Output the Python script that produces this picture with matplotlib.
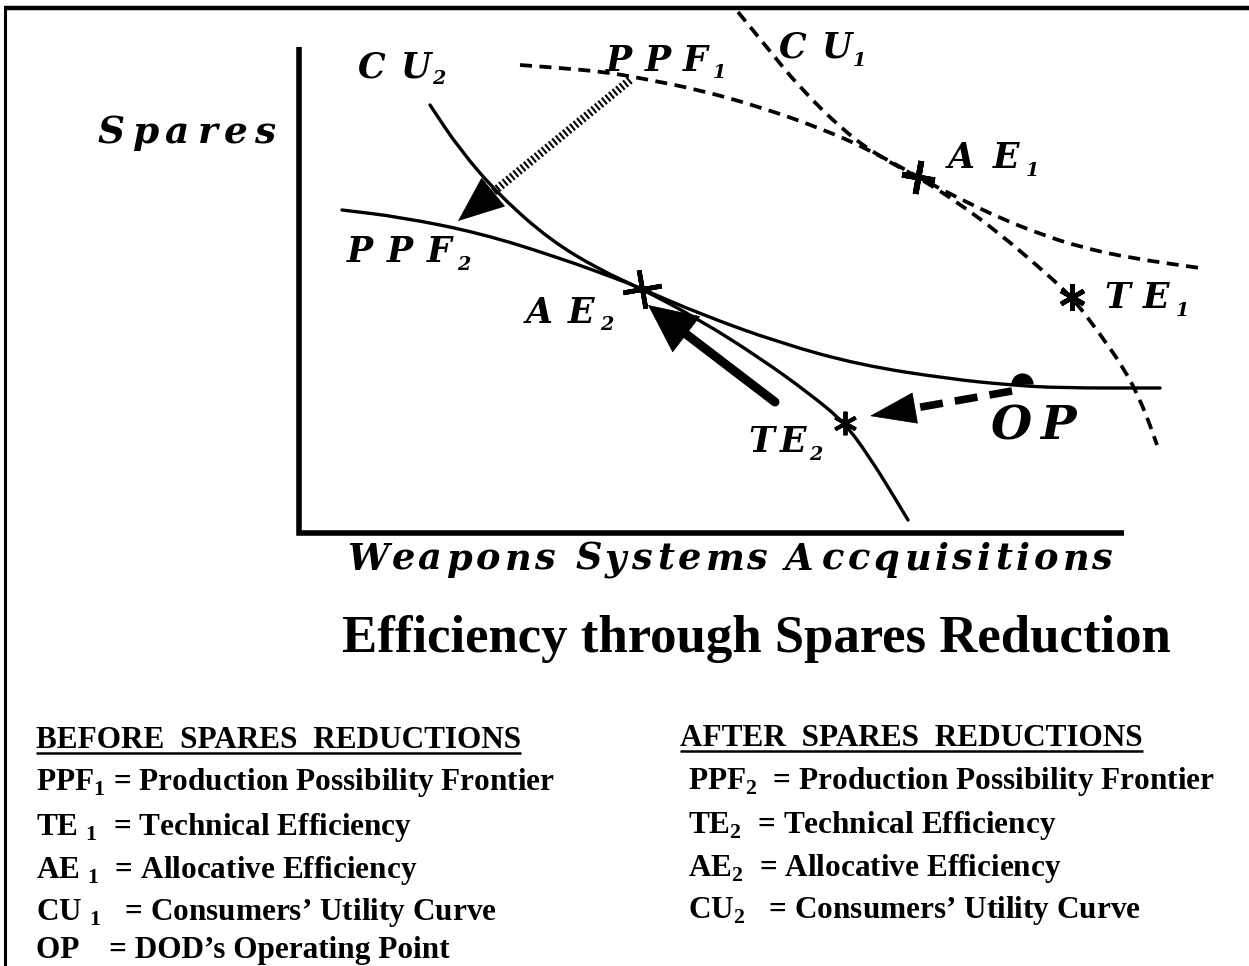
import matplotlib
matplotlib.use("Agg")
import matplotlib.pyplot as plt
from matplotlib.patches import FancyArrowPatch, PathPatch
from matplotlib.path import Path
from matplotlib.font_manager import FontProperties, findfont, get_font

plt.rcParams['mathtext.fontset'] = 'custom'
plt.rcParams['mathtext.bf'] = 'Liberation Serif:bold'
plt.rcParams['mathtext.rm'] = 'Liberation Serif:bold'

# ---- diagram data (pixel-space coordinates of the sketch) ----
ppf1_x = [520, 560, 605, 640, 700, 760, 820, 870, 918, 960, 1000, 1040, 1080, 1130, 1200]
ppf1_y = [65, 68, 72, 78, 90, 107, 128, 150, 177, 199, 218, 234, 247, 258, 268]

cu1_x = [738, 765, 800, 845, 880, 918, 960, 1000, 1040, 1072, 1100, 1125, 1140, 1150, 1157]
cu1_y = [12, 45, 88, 132, 157, 177, 204, 234, 268, 297, 334, 370, 400, 425, 445]

cu2_x = [430, 460, 500, 550, 600, 640, 700, 760, 810, 845, 870, 890, 908]
cu2_y = [105, 150, 196, 240, 270, 288, 320, 358, 394, 423, 458, 490, 520]

ppf2_x = [342, 400, 480, 560, 620, 640, 700, 780, 860, 950, 1010, 1060, 1160]
ppf2_y = [210, 217, 233, 258, 280, 288, 314, 343, 365, 379, 385, 388, 388]

ae1 = (918, 177)
te1 = (1072, 297)
ae2 = (642, 289)
te2 = (845, 423)
op = (1022, 384)

arrow_hatched = ((630, 80), (458, 221))
arrow_solid = ((775, 402), (648, 305))
arrow_dashed = ((1012, 391), (870, 416))

# (main text, subscript, left, right, baseline, size)
labels = [
    ("CU", "2", 357, 445, 77, 25),
    ("PPF", "1", 607, 722, 71, 25),
    ("CU", "1", 778, 862, 58, 25),
    ("AE", "1", 950, 1035, 168, 25),
    ("TE", "1", 1103, 1185, 308, 25),
    ("PPF", "2", 348, 470, 262, 25),
    ("AE", "2", 528, 613, 323, 25),
    ("TE", "2", 747, 822, 452, 25),
    ("OP", "", 990, 1077, 439, 34),
    ("Spares", "", 97, 275, 143, 27),
    ("Weapons Systems Accquisitions", "", 345, 1112, 570, 26.5),
]

before_header = "BEFORE  SPARES  REDUCTIONS"
before_items = [
    "PPF$_\\mathbf{1}$ = Production Possibility Frontier",
    "TE $_\\mathbf{1}$  = Technical Efficiency",
    "AE $_\\mathbf{1}$  = Allocative Efficiency",
    "CU $_\\mathbf{1}$   = Consumers\u2019 Utility Curve",
    "OP    = DOD\u2019s Operating Point",
]
after_header = "AFTER  SPARES  REDUCTIONS"
after_items = [
    "PPF$_\\mathbf{2}$  = Production Possibility Frontier",
    "TE$_\\mathbf{2}$  = Technical Efficiency",
    "AE$_\\mathbf{2}$  = Allocative Efficiency",
    "CU$_\\mathbf{2}$   = Consumers\u2019 Utility Curve",
]
before_y = [790, 835, 878, 920, 958]
after_y = [789, 833, 876, 918]

fig = plt.figure(figsize=(12.49, 9.66), dpi=100)
ax = fig.add_axes([0, 0, 1, 1])
ax.set_xlim(0, 1249)
ax.set_ylim(966, 0)
ax.axis('off')

# frame lines
ax.plot([4, 1249], [8, 8], color='black', lw=3.2, solid_capstyle='butt')
ax.plot([5, 5], [8, 966], color='black', lw=2.2, solid_capstyle='butt')

# axes of the diagram
ax.plot([299, 299, 1124], [47, 533, 533], color='black', lw=4.0,
        solid_capstyle='butt', solid_joinstyle='miter')


def smooth_curve(xs, ys, **kw):
    pts = list(zip(xs, ys))
    verts = [pts[0]]
    codes = [Path.MOVETO]
    mid = lambda a, b: ((a[0] + b[0]) / 2.0, (a[1] + b[1]) / 2.0)
    verts.append(mid(pts[0], pts[1]))
    codes.append(Path.LINETO)
    for i in range(1, len(pts) - 1):
        verts += [pts[i], mid(pts[i], pts[i + 1])]
        codes += [Path.CURVE3, Path.CURVE3]
    verts.append(pts[-1])
    codes.append(Path.LINETO)
    ax.add_patch(PathPatch(Path(verts, codes), fill=False, edgecolor='black', **kw))


smooth_curve(ppf1_x, ppf1_y, lw=2.7, linestyle=(0, (3.2, 2.0)))
smooth_curve(cu1_x, cu1_y, lw=2.7, linestyle=(0, (3.2, 2.0)))
smooth_curve(cu2_x, cu2_y, lw=2.4, capstyle='round')
smooth_curve(ppf2_x, ppf2_y, lw=2.4, capstyle='round')

# markers
ax.plot(*ae1, marker=(4, 2, -10), ms=24, mew=4.2, color='black')
ax.plot(*te1, marker=(6, 2, 0), ms=19, mew=3.4, color='black')
ax.plot(*ae2, marker=(4, 2, 10), ms=28, mew=3.4, color='black')
ax.plot(*te2, marker=(6, 2, 0), ms=17, mew=2.8, color='black')
ax.plot(*op, marker='o', ms=16, fillstyle='top', markerfacecoloralt='none',
        mec='none', color='black')


def head(p_from, p_to, frac, hl, hw):
    sx = p_to[0] - (p_to[0] - p_from[0]) * frac
    sy = p_to[1] - (p_to[1] - p_from[1]) * frac
    a = FancyArrowPatch((sx, sy), p_to, arrowstyle=f"-|>,head_length={hl},head_width={hw}",
                        color='black', lw=0.5, shrinkA=0, shrinkB=0, mutation_scale=10)
    ax.add_patch(a)


# hatched arrow
(hx0, hy0), (hx1, hy1) = arrow_hatched
ax.plot([hx0, hx1 + (hx0 - hx1) * 0.12], [hy0, hy1 + (hy0 - hy1) * 0.12],
        color='black', lw=6, dashes=(0.25, 0.3), dash_capstyle='butt')
head(arrow_hatched[0], arrow_hatched[1], 0.15, 3.2, 1.3)

# solid thick arrow
(sx0, sy0), (sx1, sy1) = arrow_solid
ax.plot([sx0, sx1 + (sx0 - sx1) * 0.2], [sy0, sy1 + (sy0 - sy1) * 0.2],
        color='black', lw=6.5, solid_capstyle='round')
head(arrow_solid[0], arrow_solid[1], 0.25, 3.4, 1.6)

# dashed arrow
(dx0, dy0), (dx1, dy1) = arrow_dashed
ax.plot([dx0, dx1 + (dx0 - dx1) * 0.15], [dy0, dy1 + (dy0 - dy1) * 0.15],
        color='black', lw=5.5, dashes=(3.0, 1.6), dash_capstyle='butt')
head(arrow_dashed[0], arrow_dashed[1], 0.22, 3.2, 1.1)

# diagram labels: wide bold-italic serif, letter-spaced to the sketch's width
LBL = FontProperties(family='DejaVu Serif', weight='bold', style='italic')
lbl_font = get_font(findfont(LBL))


def glyph_metrics(ch, size):
    lbl_font.set_size(size, 100)
    g = lbl_font.load_char(ord(ch))
    return g.linearHoriAdvance / 65536.0, g.horiBearingX / 64.0, g.width / 64.0


def tracked(main, sub, x0, x1, yb, size):
    sub_size = size * 0.55
    mets = [glyph_metrics(c, size) for c in main]
    natural = sum(m[0] for m in mets)
    weights = len(main) - 1
    sub_weight = 0.35
    if sub:
        sa, sb, sw = glyph_metrics(sub, sub_size)
        natural += sw
        weights += sub_weight
    extra = (x1 - x0 - natural) / weights if weights else 0.0
    pen = x0
    for i, (c, (adv, bx, w)) in enumerate(zip(main, mets)):
        if c != ' ':
            ax.text(pen + bx, yb, c, fontproperties=LBL, fontsize=size,
                    ha='left', va='baseline')
        pen += adv + (extra if i < len(main) - 1 else extra * sub_weight)
    if sub:
        ax.text(pen, yb + size * 0.3, sub, fontproperties=LBL, fontsize=sub_size,
                ha='left', va='baseline')


for main, sub, x0, x1, yb, size in labels:
    tracked(main, sub, x0, x1, yb, size)

# title
ax.text(756, 652, "Efficiency through Spares Reduction", fontsize=38,
        family='Liberation Serif', weight='bold', ha='center', va='baseline')

# legend
LEG = 22.5
h1 = ax.text(36, 748, before_header, fontsize=LEG, family='Liberation Serif',
             weight='bold', ha='left', va='baseline')
h2 = ax.text(680, 746, after_header, fontsize=LEG, family='Liberation Serif',
             weight='bold', ha='left', va='baseline')
for txt, y in zip(before_items, before_y):
    ax.text(36, y, txt, fontsize=LEG, family='Liberation Serif', weight='bold',
            ha='left', va='baseline')
for txt, y in zip(after_items, after_y):
    ax.text(688, y, txt, fontsize=LEG, family='Liberation Serif', weight='bold',
            ha='left', va='baseline')

fig.canvas.draw()
r = fig.canvas.get_renderer()
inv = ax.transData.inverted()
for h, yb in ((h1, 753), (h2, 751)):
    bb = h.get_window_extent(r)
    (x0, _), (x1, _) = inv.transform([[bb.x0, bb.y0], [bb.x1, bb.y0]])
    ax.plot([x0, x1], [yb, yb], color='black', lw=1.8, solid_capstyle='butt')

fig.savefig("out.png", dpi=100)
